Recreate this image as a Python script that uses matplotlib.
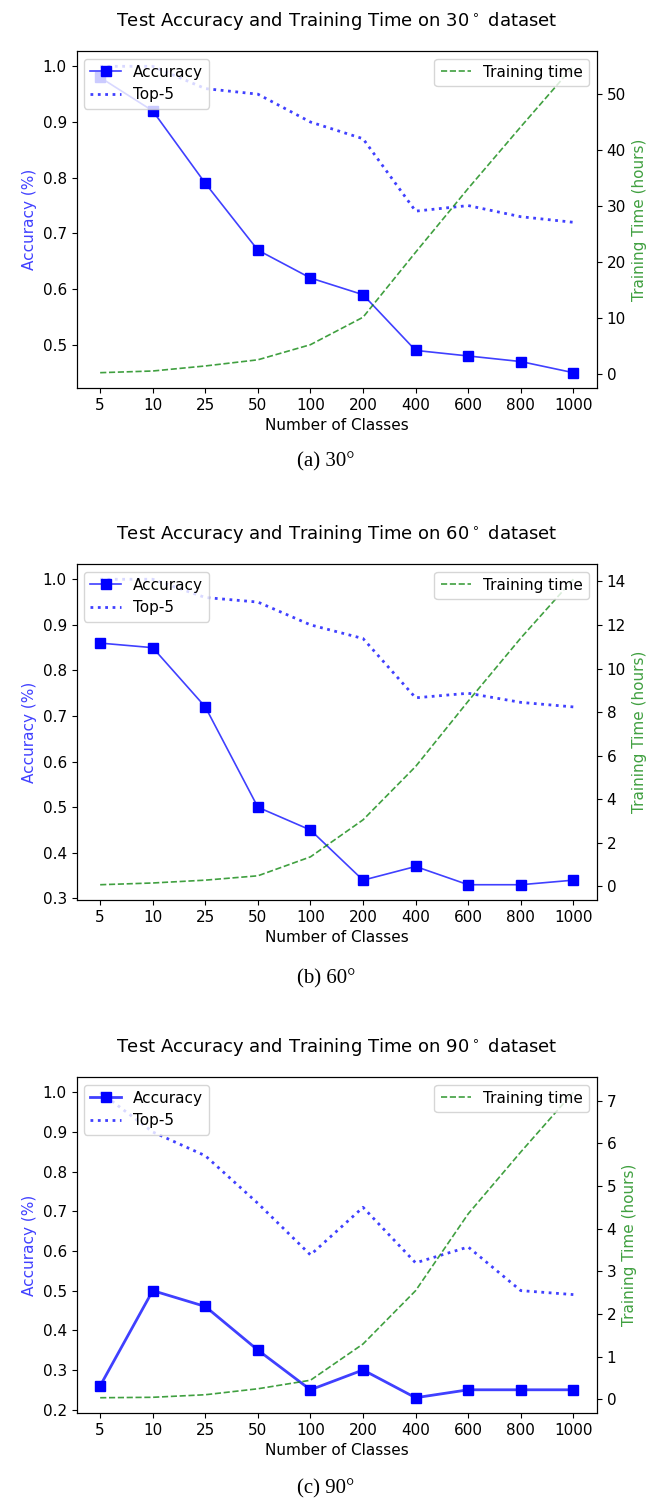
import matplotlib.pyplot as plt
import numpy as np

# x categories (number of classes)
classes = ["5", "10", "25", "50", "100", "200", "400", "600", "800", "1000"]

# 30 degree dataset
acc_30 = [0.98, 0.92, 0.79, 0.67, 0.62, 0.59, 0.49, 0.48, 0.47, 0.45]
top5_30 = [1.0, 1.0, 0.96, 0.95, 0.90, 0.87, 0.74, 0.75, 0.73, 0.72]
time_30 = [0.3, 0.6, 1.5, 2.6, 5.3, 10.2, 21.8, 33.2, 44.2, 55.0]

# 60 degree dataset
acc_60 = [0.86, 0.85, 0.72, 0.50, 0.45, 0.34, 0.37, 0.33, 0.33, 0.34]
top5_60 = [1.0, 1.0, 0.96, 0.95, 0.90, 0.87, 0.74, 0.75, 0.73, 0.72]
time_60 = [0.07, 0.15, 0.28, 0.48, 1.35, 3.05, 5.5, 8.5, 11.4, 14.1]

# 90 degree dataset
acc_90 = [0.26, 0.50, 0.46, 0.35, 0.25, 0.30, 0.23, 0.25, 0.25, 0.25]
top5_90 = [1.0, 0.90, 0.84, 0.72, 0.59, 0.71, 0.57, 0.61, 0.50, 0.49]
time_90 = [0.04, 0.05, 0.11, 0.25, 0.45, 1.3, 2.55, 4.35, 5.8, 7.2]

panels = [
    ("30", "(a) 30°", acc_30, top5_30, time_30, 1.2, 7),
    ("60", "(b) 60°", acc_60, top5_60, time_60, 1.2, 7),
    ("90", "(c) 90°", acc_90, top5_90, time_90, 2.0, 7.5),
]

W, H = 661, 1501
fig = plt.figure(figsize=(W / 100, H / 100), dpi=100)

# axes boxes in pixels: (top, bottom), caption y
boxes = [(51, 388, 462), (564, 900, 979), (1077, 1413, 1489)]
left_px, right_px = 76.5, 597

x = np.arange(len(classes))
fs = 11

for (deg, cap, acc, top5, ttime, lw, ms), (top, bot, cap_y) in zip(panels, boxes):
    ax1 = fig.add_axes([left_px / W, 1 - bot / H, (right_px - left_px) / W, (bot - top) / H])
    ax1.plot(x, acc, color=(0, 0, 1, 0.75), lw=lw, marker="s", ms=ms,
             mfc="blue", mec="blue", label="Accuracy")
    ax1.plot(x, top5, color=(0, 0, 1, 0.75), lw=2, ls=":", label="Top-5")
    ax1.set_xticks(x)
    ax1.set_xticklabels(classes)
    ax1.set_xlabel("Number of Classes", fontsize=fs)
    ax1.set_ylabel("Accuracy (%)", color=(0, 0, 1, 0.75), fontsize=fs)
    ax1.tick_params(labelsize=fs)
    ax1.legend(loc="upper left", fontsize=fs)
    ax1.set_title("Test Accuracy and Training Time on %s$^\\circ$ dataset" % deg,
                  fontsize=13, pad=18)

    ax2 = ax1.twinx()
    ax2.plot(x, ttime, color=(0, 0.5, 0, 0.75), lw=1.2, ls="--", label="Training time")
    ax2.set_ylabel("Training Time (hours)", color=(0, 0.5, 0, 0.75), fontsize=fs)
    ax2.tick_params(labelsize=fs)
    ax2.legend(loc="upper right", fontsize=fs)

    fig.text(326 / W, 1 - cap_y / H, cap,
             ha="center", va="center", fontsize=15, family="Liberation Serif")

plt.savefig("out.png", dpi=100)
